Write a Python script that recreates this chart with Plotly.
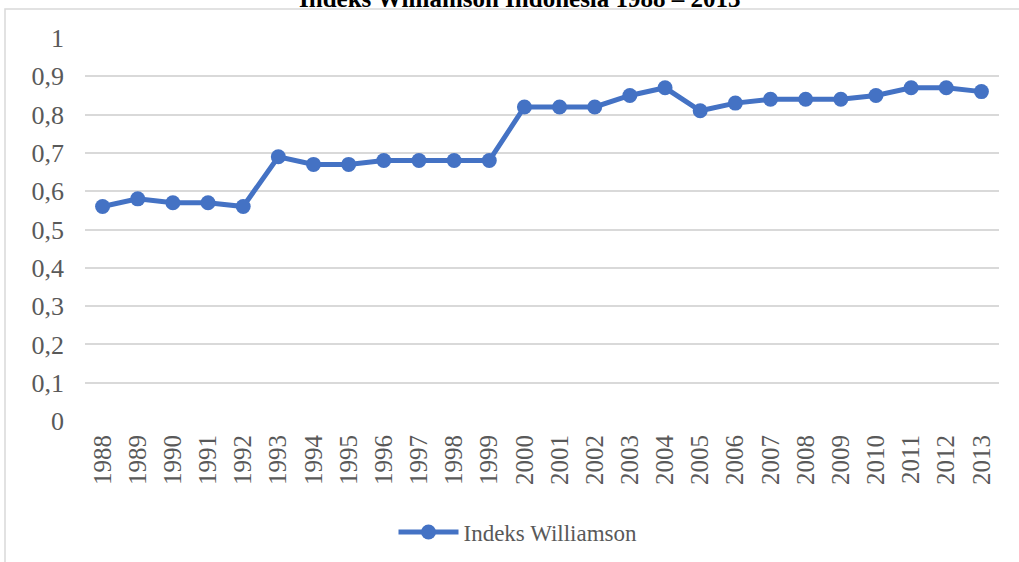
import plotly.graph_objects as go

years = [str(y) for y in range(1988, 2014)]
values = [0.56, 0.58, 0.57, 0.57, 0.56, 0.69, 0.67, 0.67, 0.68, 0.68, 0.68, 0.68,
          0.82, 0.82, 0.82, 0.85, 0.87, 0.81, 0.83, 0.84, 0.84, 0.84, 0.85, 0.87, 0.87, 0.86]
ytick_vals = [0, 0.1, 0.2, 0.3, 0.4, 0.5, 0.6, 0.7, 0.8, 0.9, 1]
ytick_text = ["0", "0,1", "0,2", "0,3", "0,4", "0,5", "0,6", "0,7", "0,8", "0,9", "1"]
series_name = "Indeks Williamson"
title = "Indeks Williamson Indonesia 1988 – 2013"

W, H = 1019, 562
L, R, T, B = 85, 20, 38, 141
pw, ph = W - L - R, H - T - B

def px_x(p):
    return (p - L) / pw

def px_y(p):
    return 1 - (p - T) / ph

fig = go.Figure()
fig.add_trace(go.Scatter(
    x=years, y=values, mode="lines+markers", name=series_name,
    line=dict(color="#4472C4", width=5),
    marker=dict(color="#4472C4", size=15),
    showlegend=True,
))

fig.update_layout(
    width=W, height=H,
    margin=dict(l=L, r=R, t=T, b=B, autoexpand=False),
    paper_bgcolor="white", plot_bgcolor="white",
    font=dict(family="Liberation Serif", color="#595959"),
    showlegend=True,
    legend=dict(orientation="h", xref="container", yref="container",
                x=518 / W, xanchor="center", y=1 - 532 / H, yanchor="middle",
                font=dict(size=23, color="#595959"), itemwidth=60),
    xaxis=dict(type="category", range=[-0.5, len(years) - 0.5], automargin=False,
               showgrid=False, showline=False, ticks="",
               tickangle=-90, tickfont=dict(size=25, color="#595959"), zeroline=False,
               ticklabelstandoff=8),
    yaxis=dict(range=[0, 1], tickvals=ytick_vals, ticktext=ytick_text, automargin=False,
               showgrid=True, gridcolor="#d9d9d9", gridwidth=1.5, zeroline=False,
               showline=False, ticks="", tickfont=dict(size=26, color="#595959"),
               ticklabelstandoff=20),
    shapes=[dict(type="rect", xref="paper", yref="paper",
                 x0=px_x(5), x1=px_x(1040), y0=px_y(620), y1=px_y(9),
                 line=dict(color="#d9d9d9", width=1.5), layer="below")],
    annotations=[dict(text="<b>" + title + "</b>", xref="paper", yref="paper",
                      x=px_x(520), y=px_y(14), xanchor="center", yanchor="bottom",
                      showarrow=False, font=dict(size=25, color="black", family="Liberation Serif"))],
)

fig.write_html("out.html", config={"displayModeBar": False},
               post_script="document.body.style.margin='0';document.body.style.overflow='hidden';")
